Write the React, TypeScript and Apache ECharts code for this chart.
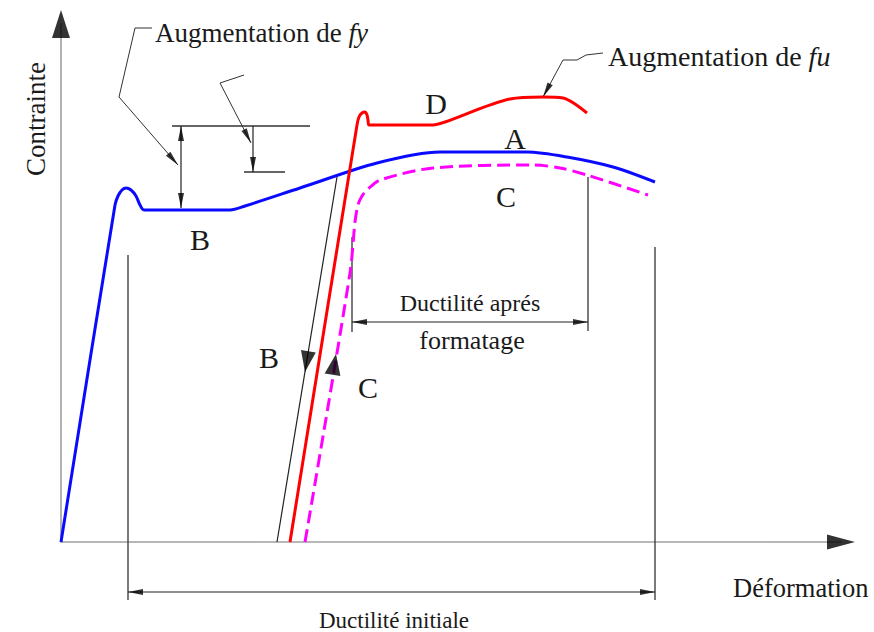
import React, { useEffect, useRef } from 'react';
import * as echarts from 'echarts';

// Data (strain, stress), in drawing units
const curveA = [[0, 0], [54, 337], [57, 346], [61, 352], [65, 354], [70, 352], [75, 346], [79, 337], [83, 332], [169, 332], [184, 336], [239, 354], [316, 379], [379, 390], [466, 390], [506, 385], [552, 375], [594, 360]];
const curveD = [[229, 0], [296, 417], [298, 425], [301, 429], [304, 430], [306, 427], [307, 422], [308, 417], [372, 417], [384, 420], [449, 443], [482, 445], [502, 444], [514, 438], [526, 429]];
const curveC = [[244, 0], [289, 269], [294, 320], [297, 337], [301, 346], [307, 353], [319, 362], [372, 374], [472, 377], [499, 374], [526, 367], [587, 347]];
const unloadB = [[276, 365], [216, 0]];

const dimInitialLeft = [[67, 287], [67, -58]];
const dimInitialRight = [[594, 295], [594, -58]];
const dimInitialSpan = [[67, -50], [594, -50]];
const dimFormLeft = [[291, 305], [291, 210]];
const dimFormRight = [[527, 365], [527, 211]];
const dimFormSpan = [[291, 220], [527, 220]];
const fyTop = [[111, 416], [249, 416]];
const fyLow = [[183, 370], [224, 370]];
const fyGapA = [[120, 416], [120, 334]];
const fyGapB = [[192, 416], [192, 370]];
const leaderFy1 = [[91, 514], [74, 514], [58, 445], [117, 377]];
const leaderFy2 = [[183, 467], [159, 459], [190, 399]];
const leaderFu = [[542, 489], [525, 487], [516, 482], [502, 482], [482, 445]];

// arrow heads: [tipX, tipY, fromX, fromY]
const axisArrowsY = [[0, 532, 0, 0]];
const axisArrowsX = [[794, 0, 0, 0]];
const dimArrows = [
  [67, -50, 594, -50], [594, -50, 67, -50],
  [291, 220, 527, 220], [527, 220, 291, 220],
  [120, 416, 120, 334], [120, 334, 120, 416],
  [192, 370, 192, 416],
  [117, 377, 58, 445], [190, 399, 159, 459], [482, 445, 502, 482],
];
const pathArrowDown = [[244, 170, 276, 366]];
const pathArrowUp = [[275, 188, 230, -81]];

const X_MAX = 780;
const Y_MAX = 518;

function head(a: number[], len: number, wid: number) {
  const [tx, ty, fx, fy] = a;
  const dx = tx - fx, dy = ty - fy;
  const n = Math.hypot(dx, dy) || 1;
  const ux = dx / n, uy = dy / n;
  const rot = (Math.atan2(-ux, uy) * 180) / Math.PI;
  return {
    value: [tx - (ux * len) / 2, ty - (uy * len) / 2],
    symbolRotate: rot,
    symbolSize: [wid, len],
  };
}

const SERIF = 'Liberation Serif';

function txt(text: string, x: number, y: number, size: number, align = 'center', extra: any = {}) {
  return {
    type: 'text', x, y, ...extra,
    style: {
      text: text.includes('{') ? text : `{n|${text}}`,
      fontSize: size, fontFamily: SERIF, fill: '#1a1a1a', align, verticalAlign: 'middle',
      rich: {
        n: { fontSize: size, fontFamily: SERIF, fill: '#1a1a1a' },
        i: { fontStyle: 'italic', fontSize: size, fontFamily: SERIF, fill: '#1a1a1a' },
      },
    },
  };
}

export default function App() {
  const ref = useRef<HTMLDivElement>(null);
  useEffect(() => {
    const chart = echarts.init(ref.current!, null, { renderer: 'svg' });
    const thin = (data: number[][], color = '#222', width = 1.2) => ({
      type: 'line', data, clip: false, symbol: 'none', silent: true,
      lineStyle: { color, width }, z: 3,
    });
    const arrowSeries = (data: any[]) => ({
      type: 'scatter', data, clip: false, symbol: 'triangle', silent: true,
      itemStyle: { color: '#000' }, z: 10,
    });
    const option: any = {
      animation: false,
      backgroundColor: '#fff',
      grid: { left: 61, top: 24, width: X_MAX, height: Y_MAX, containLabel: false },
      xAxis: {
        type: 'value', min: 0, max: X_MAX,
        axisLine: { show: true, lineStyle: { color: '#a0a0a0', width: 1.6 } },
        axisTick: { show: false }, axisLabel: { show: false }, splitLine: { show: false },
      },
      yAxis: {
        type: 'value', min: 0, max: Y_MAX,
        axisLine: { show: true, lineStyle: { color: '#a0a0a0', width: 1.6 } },
        axisTick: { show: false }, axisLabel: { show: false }, splitLine: { show: false },
      },
      series: [
        thin(dimInitialLeft, '#333', 1.3),
        thin(dimInitialRight, '#333', 1.3),
        thin(dimInitialSpan),
        thin(dimFormLeft, '#333', 1.3),
        thin(dimFormRight, '#333', 1.3),
        thin(dimFormSpan),
        thin(fyTop, '#333', 1.3),
        thin(fyLow, '#333', 1.3),
        thin(fyGapA),
        thin(fyGapB),
        thin(leaderFy1, '#333', 1),
        thin(leaderFy2, '#333', 1),
        thin(leaderFu, '#333', 1),
        thin(unloadB, '#222', 1.2),
        {
          type: 'line', data: curveA, symbol: 'none', smooth: 0.3, clip: false,
          lineStyle: { color: '#0a0aff', width: 3 }, z: 4,
        },
        {
          type: 'line', data: curveC, symbol: 'none', smooth: 0.3, clip: false,
          lineStyle: { color: '#ff00ff', width: 3, type: [13, 6] }, z: 4,
        },
        {
          type: 'line', data: curveD, symbol: 'none', smooth: 0.3, clip: false,
          lineStyle: { color: '#ff0000', width: 3 }, z: 5,
        },
        arrowSeries(axisArrowsY.map((a) => head(a, 28, 18))),
        arrowSeries(axisArrowsX.map((a) => head(a, 28, 15))),
        arrowSeries(dimArrows.map((a) => head(a, 15, 6))),
        arrowSeries(pathArrowDown.map((a) => head(a, 21, 15))),
        arrowSeries(pathArrowUp.map((a) => head(a, 21, 16))),
      ],
      graphic: [
        txt('{n|Augmentation de }{i|fy}', 155, 33, 27, 'left'),
        txt('{n|Augmentation de }{i|fu}', 608, 56, 28, 'left'),
        txt('Contrainte', 36, 119, 27, 'center', { rotation: Math.PI / 2 }),
        txt('Déformation', 733, 588, 26.5, 'left'),
        txt('Ductilité initiale', 394, 620, 23),
        txt('Ductilité aprés', 470, 303, 24),
        txt('formatage', 472, 340, 26),
        txt('D', 436, 103, 30),
        txt('A', 515, 138, 30),
        txt('C', 506, 196, 30),
        txt('B', 200, 239, 30),
        txt('B', 269, 357, 30),
        txt('C', 368, 387, 30),
      ],
    };
    chart.setOption(option);
    return () => chart.dispose();
  }, []);
  return (
    <div
      ref={ref}
      style={{ position: 'absolute', left: 0, top: 0, width: 874, height: 632, background: '#fff' }}
    />
  );
}
